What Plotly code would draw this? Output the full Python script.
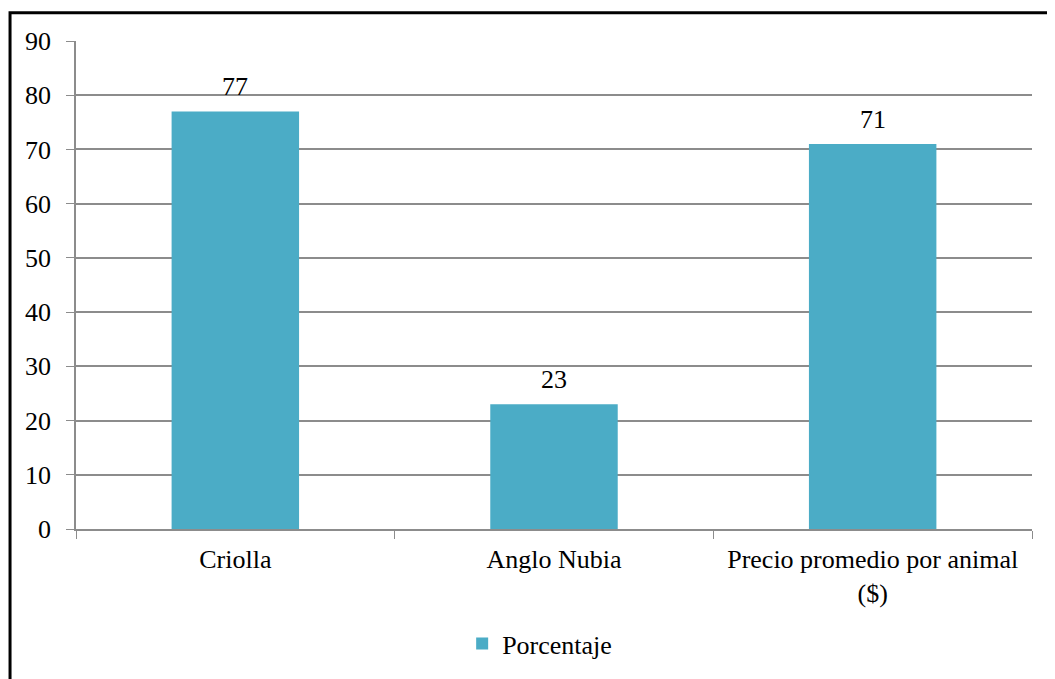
import plotly.graph_objects as go

categories = ["Criolla", "Anglo Nubia", "Precio promedio por animal<br>($)"]
porcentaje = [77, 23, 71]
y_ticks = [0, 10, 20, 30, 40, 50, 60, 70, 80, 90]

font = dict(family="Liberation Serif, Times New Roman, serif", size=26, color="black")
grid = "#8c8c8c"

fig = go.Figure()
fig.add_trace(go.Bar(
    x=categories,
    y=porcentaje,
    name="Porcentaje",
    marker=dict(color="#4BACC6", line=dict(width=0)),
))

# value labels above the bars
for cat, val in zip(categories, porcentaje):
    fig.add_annotation(x=cat, y=val, text=str(val), showarrow=False,
                       yanchor="bottom", yshift=8, font=font)

# page body has an 8px margin, so margins are shifted to compensate
fig.update_layout(
    width=1055,
    height=679,
    margin=dict(l=68, r=31, t=33, b=158),
    paper_bgcolor="white",
    plot_bgcolor="white",
    font=font,
    bargap=0.6,
    showlegend=True,
    legend=dict(orientation="h", x=0.485, xanchor="center", y=-0.235,
                yanchor="middle", font=font),
    xaxis=dict(
        showline=True, linecolor=grid, linewidth=1.5,
        ticks="outside", tickson="boundaries", ticklen=8, tickcolor=grid,
        showgrid=False, tickfont=font, ticklabelstandoff=6,
    ),
    yaxis=dict(
        range=[0, 90], tickvals=y_ticks,
        showline=True, linecolor=grid, linewidth=1.5,
        ticks="outside", ticklen=8, tickcolor=grid,
        showgrid=True, gridcolor=grid, gridwidth=1.5,
        zeroline=False, tickfont=font, ticklabelstandoff=10,
    ),
    shapes=[dict(
        type="rect", xref="paper", yref="paper",
        x0=-0.069, x1=1.2, y0=-0.5, y1=1.058,
        line=dict(color="black", width=3), fillcolor="rgba(0,0,0,0)",
        layer="below",
    )],
)

fig.write_html("out.html")
